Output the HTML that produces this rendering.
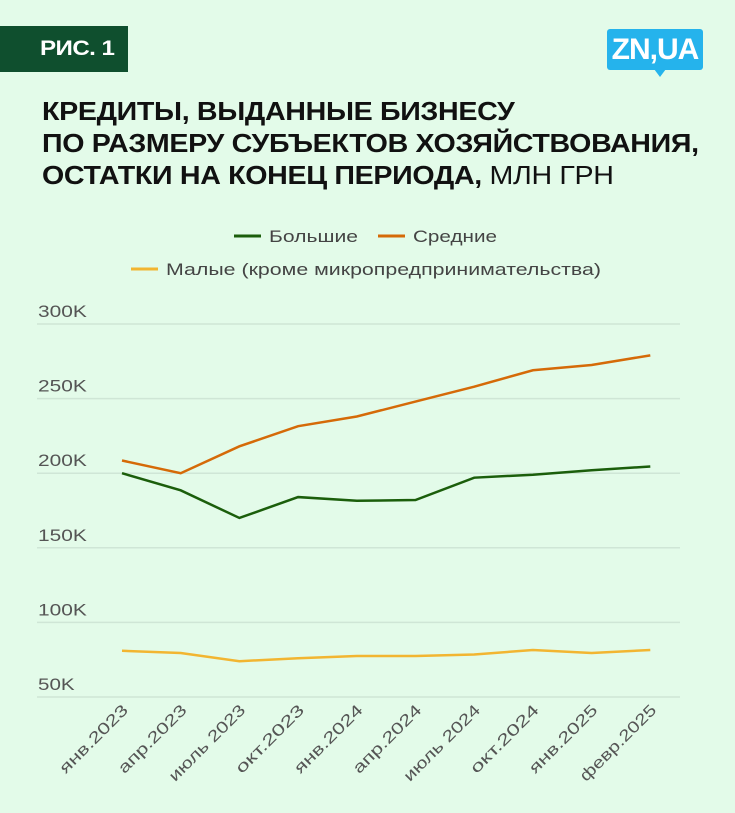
<!DOCTYPE html>
<html><head><meta charset="utf-8"><style>
body{margin:0;width:735px;height:813px;background:#e3fbe9;font-family:"Liberation Sans",sans-serif;overflow:hidden;position:relative}
#badge{position:absolute;left:0;top:26px;width:128px;height:46px;background:#0f4f2e}
#badge span{position:absolute;left:40px;top:0;color:#fff;font-weight:bold;font-size:21px;line-height:46px;letter-spacing:-0.5px;transform:scaleX(1.15);transform-origin:left center;white-space:nowrap}
#logo{position:absolute;left:607px;top:29px;width:96px;height:41px;background:#25b3ec;border-radius:3px;color:#fff;font-weight:bold;font-size:30px;line-height:41px;text-align:center;letter-spacing:-1px}
#logo-tail{position:absolute;left:654px;top:69px;width:0;height:0;border-left:6px solid transparent;border-right:6px solid transparent;border-top:8px solid #25b3ec}
#title{position:absolute;left:42px;top:95px;font-size:26px;font-weight:bold;line-height:32px;color:#111;letter-spacing:-0.3px;transform:scaleX(1.1);transform-origin:left top;white-space:nowrap}
#title span{font-weight:normal}
</style></head><body>
<div id="badge"><span>РИС. 1</span></div>
<div id="logo">ZN,UA</div>
<div id="logo-tail"></div>
<div id="title">КРЕДИТЫ, ВЫДАННЫЕ БИЗНЕСУ<br>ПО РАЗМЕРУ СУБЪЕКТОВ ХОЗЯЙСТВОВАНИЯ,<br>ОСТАТКИ НА КОНЕЦ ПЕРИОДА, <span>МЛН ГРН</span></div>
<svg id="chart" width="735" height="813" style="position:absolute;left:0;top:0"></svg>
<script>
const categories=["янв.2023","апр.2023","июль 2023","окт.2023","янв.2024","апр.2024","июль 2024","окт.2024","янв.2025","февр.2025"];
const large=[200,188.5,170,184,181.5,182,197,199,202,204.5];
const medium=[208.5,200,218,231.5,238,248,258,269,272.5,279];
const small=[81,79.5,74,76,77.5,77.5,78.5,81.5,79.5,81.5];
const yTicks=[50,100,150,200,250,300];
const yTickLabels=["50K","100K","150K","200K","250K","300K"];
const seriesNames=["Большие","Средние","Малые (кроме микропредпринимательства)"];
const colors=["#1b5e0b","#d56a08","#f2b531"];
const svg=document.getElementById('chart');const NS="http://www.w3.org/2000/svg";
function y(v){return 697-(v-50)*(373/250);}
function x(i){return 122+i*58.7;}
function mk(t,a,txt){const e=document.createElementNS(NS,t);for(const k in a)e.setAttribute(k,a[k]);if(txt!=null)e.textContent=txt;svg.appendChild(e);return e;}
yTicks.forEach((t,i)=>{
 const g=mk('line',{x1:37,x2:680,y1:y(t),y2:y(t),stroke:'#cfe6d6','stroke-width':1.5});
 
 
 const s=yTickLabels[i];
 const l=mk('text',{x:38,y:y(t)-7,'font-size':17,fill:'#555',textLength:s.length*12.2,lengthAdjust:'spacingAndGlyphs'},s);
 
 
});
categories.forEach((c,i)=>{
 const t=mk('text',{x:x(i)+7,y:711,'font-size':16,fill:'#555','text-anchor':'end',textLength:c.length*11.2,lengthAdjust:'spacingAndGlyphs',transform:`rotate(-45 ${x(i)+7} 711)`},c);
 
 
});
[large,medium,small].forEach((d,s)=>{
 const p=mk('polyline',{points:d.map((v,i)=>x(i)+','+y(v)).join(' '),fill:'none',stroke:colors[s],'stroke-width':2.5});
 
 
});
const legPos=[[234,236],[378,236],[131,269]];
const legLen=[89,84,435];
seriesNames.forEach((n,s)=>{
 const [lx,ly]=legPos[s];
 const l=mk('line',{x1:lx,x2:lx+27,y1:ly,y2:ly,stroke:colors[s],'stroke-width':3});
 
 
 const t=mk('text',{x:lx+35,y:ly+6,'font-size':17,fill:'#444',textLength:legLen[s],lengthAdjust:'spacingAndGlyphs'},n);
 
 
});
</script>
</body></html>
